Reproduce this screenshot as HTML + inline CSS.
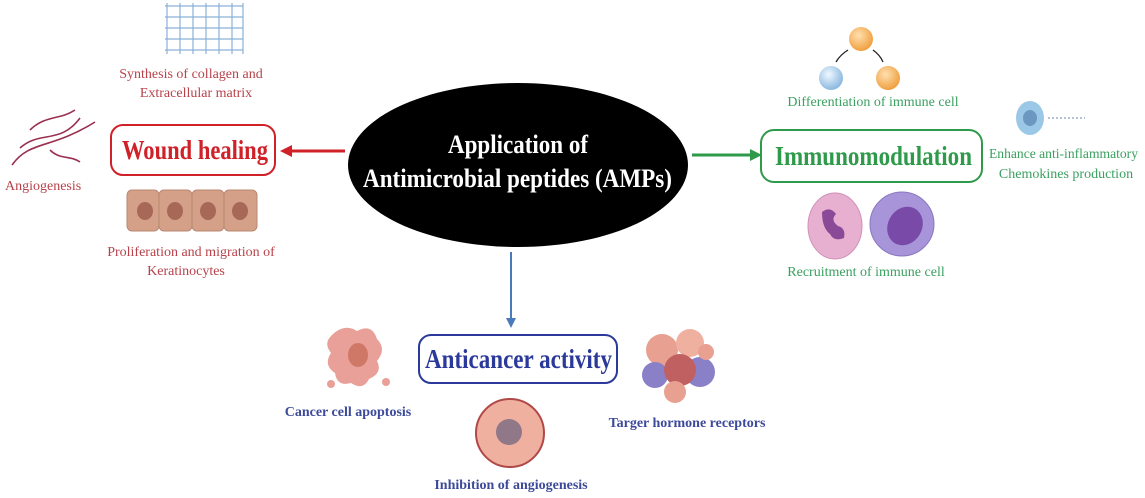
<!DOCTYPE html>
<html><head><meta charset="utf-8"><style>
html,body{margin:0;padding:0;background:#fff;}
svg{display:block;}
text{font-family:"Liberation Serif",serif;}
</style></head><body>
<svg width="1145" height="498" viewBox="0 0 1145 498" xmlns="http://www.w3.org/2000/svg">
<defs>
<radialGradient id="org" cx="40%" cy="35%" r="65%"><stop offset="0" stop-color="#ffe0b0"/><stop offset="1" stop-color="#f0a040"/></radialGradient>
<radialGradient id="blu" cx="40%" cy="35%" r="65%"><stop offset="0" stop-color="#f0f8ff"/><stop offset="1" stop-color="#8ab8e0"/></radialGradient>
</defs>
<ellipse cx="518" cy="165" rx="170" ry="82" fill="#000"/>
<text x="448" y="153" font-size="26" font-weight="bold" fill="#fff" textLength="140" lengthAdjust="spacingAndGlyphs">Application of</text>
<text x="363" y="187" font-size="26" font-weight="bold" fill="#fff" textLength="309" lengthAdjust="spacingAndGlyphs">Antimicrobial peptides (AMPs)</text>

<line x1="345" y1="151" x2="290" y2="151" stroke="#d02028" stroke-width="3"/>
<polygon points="280,151 292,145 292,157" fill="#d02028"/>
<rect x="111" y="125" width="164" height="50" rx="12" fill="none" stroke="#d02028" stroke-width="2"/>
<text x="122" y="159" font-size="27" font-weight="bold" fill="#d02028" textLength="146" lengthAdjust="spacingAndGlyphs">Wound healing</text>

<g stroke="#8ab0d8" stroke-width="1.2" fill="none">
<path d="M165 6H243M165 17H243M165 28H243M165 39H243M165 50H243"/>
<path d="M167 3V54M180 3V54M193 3V54M206 3V54M219 3V54M232 3V54M243 3V54"/>
</g>
<text x="191" y="78" font-size="14" fill="#b8424a" text-anchor="middle">Synthesis of collagen and</text>
<text x="196" y="97" font-size="14" fill="#b8424a" text-anchor="middle">Extracellular matrix</text>

<g stroke="#9a3050" fill="none" stroke-width="1.6">
<path d="M12 165C30 140 50 150 95 122"/>
<path d="M20 148C40 130 60 145 80 118"/>
<path d="M30 130C45 115 60 120 75 110"/>
<path d="M50 150C60 160 70 155 80 162"/>
</g>
<text x="5" y="190" font-size="14" fill="#b8424a">Angiogenesis</text>

<g fill="#d4a088" stroke="#b88870" stroke-width="1">
<rect x="127" y="190" width="32" height="41" rx="5"/><rect x="159" y="190" width="33" height="41" rx="5"/><rect x="192" y="190" width="32" height="41" rx="5"/><rect x="224" y="190" width="33" height="41" rx="5"/>
</g>
<g fill="#a86858"><ellipse cx="145" cy="211" rx="8" ry="9"/><ellipse cx="175" cy="211" rx="8" ry="9"/><ellipse cx="208" cy="211" rx="8" ry="9"/><ellipse cx="240" cy="211" rx="8" ry="9"/></g>
<text x="191" y="256" font-size="14" fill="#b8424a" text-anchor="middle">Proliferation and migration of</text>
<text x="186" y="275" font-size="14" fill="#b8424a" text-anchor="middle">Keratinocytes</text>

<line x1="692" y1="155" x2="752" y2="155" stroke="#2e9a4a" stroke-width="3"/>
<polygon points="762,155 750,149 750,161" fill="#2e9a4a"/>
<rect x="761" y="130" width="221" height="52" rx="13" fill="none" stroke="#2e9a4a" stroke-width="2"/>
<text x="775" y="165" font-size="27" font-weight="bold" fill="#2e9a4a" textLength="197" lengthAdjust="spacingAndGlyphs">Immunomodulation</text>

<circle cx="861" cy="39" r="12" fill="url(#org)"/>
<circle cx="831" cy="78" r="12" fill="url(#blu)"/>
<circle cx="888" cy="78" r="12" fill="url(#org)"/>
<path d="M848 50Q840 55 836 62M873 50Q880 55 883 62" stroke="#222" fill="none" stroke-width="1.3"/>
<text x="873" y="106" font-size="14" fill="#3aa060" text-anchor="middle">Differentiation of immune cell</text>

<ellipse cx="1030" cy="118" rx="14" ry="17" fill="#9cc8e8"/>
<ellipse cx="1030" cy="118" rx="7" ry="8" fill="#6a98c0"/>
<line x1="1048" y1="118" x2="1085" y2="118" stroke="#6a8aa8" stroke-width="1" stroke-dasharray="2,2"/>
<text x="989" y="158" font-size="14" fill="#3aa060" textLength="149" lengthAdjust="spacingAndGlyphs">Enhance anti-inflammatory</text>
<text x="1066" y="178" font-size="14" fill="#3aa060" text-anchor="middle">Chemokines production</text>

<ellipse cx="835" cy="226" rx="27" ry="33" fill="#e8b0d0" stroke="#d090b8"/>
<path d="M822 212q8-6 14 2q-6 6 2 12q8 2 6 12q-10 4-14-4q-8-6-8-22z" fill="#8a4a98"/>
<circle cx="902" cy="224" r="32" fill="#a894d8" stroke="#8878c0"/>
<ellipse cx="905" cy="226" rx="17" ry="20" fill="#7a4aa8" transform="rotate(30 905 226)"/>
<text x="866" y="276" font-size="14" fill="#3aa060" text-anchor="middle">Recruitment of immune cell</text>

<line x1="511" y1="252" x2="511" y2="320" stroke="#4a7ab8" stroke-width="2"/>
<polygon points="511,328 506,318 516,318" fill="#4a7ab8"/>
<rect x="419" y="335" width="198" height="48" rx="12" fill="none" stroke="#2b3a9a" stroke-width="2"/>
<text x="425" y="368" font-size="27" font-weight="bold" fill="#2b3a9a" textLength="187" lengthAdjust="spacingAndGlyphs">Anticancer activity</text>

<path d="M332 335q12-12 25-4q15-8 20 8q10 10 0 22q6 12-8 18q-6 12-18 4q-14 4-16-10q-12-8-4-20q-8-10 1-18z" fill="#e8a098"/>
<ellipse cx="358" cy="355" rx="10" ry="12" fill="#d07868"/>
<circle cx="331" cy="384" r="4" fill="#e8a098"/><circle cx="386" cy="382" r="4" fill="#e8a098"/>
<text x="348" y="416" font-size="14" font-weight="bold" fill="#3d4a9a" text-anchor="middle">Cancer cell apoptosis</text>

<circle cx="510" cy="433" r="34" fill="#f0b0a0" stroke="#b04848" stroke-width="2"/>
<circle cx="509" cy="432" r="13" fill="#907888"/>
<text x="511" y="489" font-size="14" font-weight="bold" fill="#3d4a9a" text-anchor="middle">Inhibition of angiogenesis</text>

<circle cx="662" cy="350" r="16" fill="#e8a090"/>
<circle cx="690" cy="343" r="14" fill="#f0b0a0"/>
<circle cx="700" cy="372" r="15" fill="#8a80c8"/>
<circle cx="655" cy="375" r="13" fill="#8a80c8"/>
<circle cx="680" cy="370" r="16" fill="#c06060"/>
<circle cx="675" cy="392" r="11" fill="#e8a090"/>
<circle cx="706" cy="352" r="8" fill="#e8a090"/>
<text x="687" y="427" font-size="14" font-weight="bold" fill="#3d4a9a" text-anchor="middle">Targer hormone receptors</text>
</svg>
</body></html>
